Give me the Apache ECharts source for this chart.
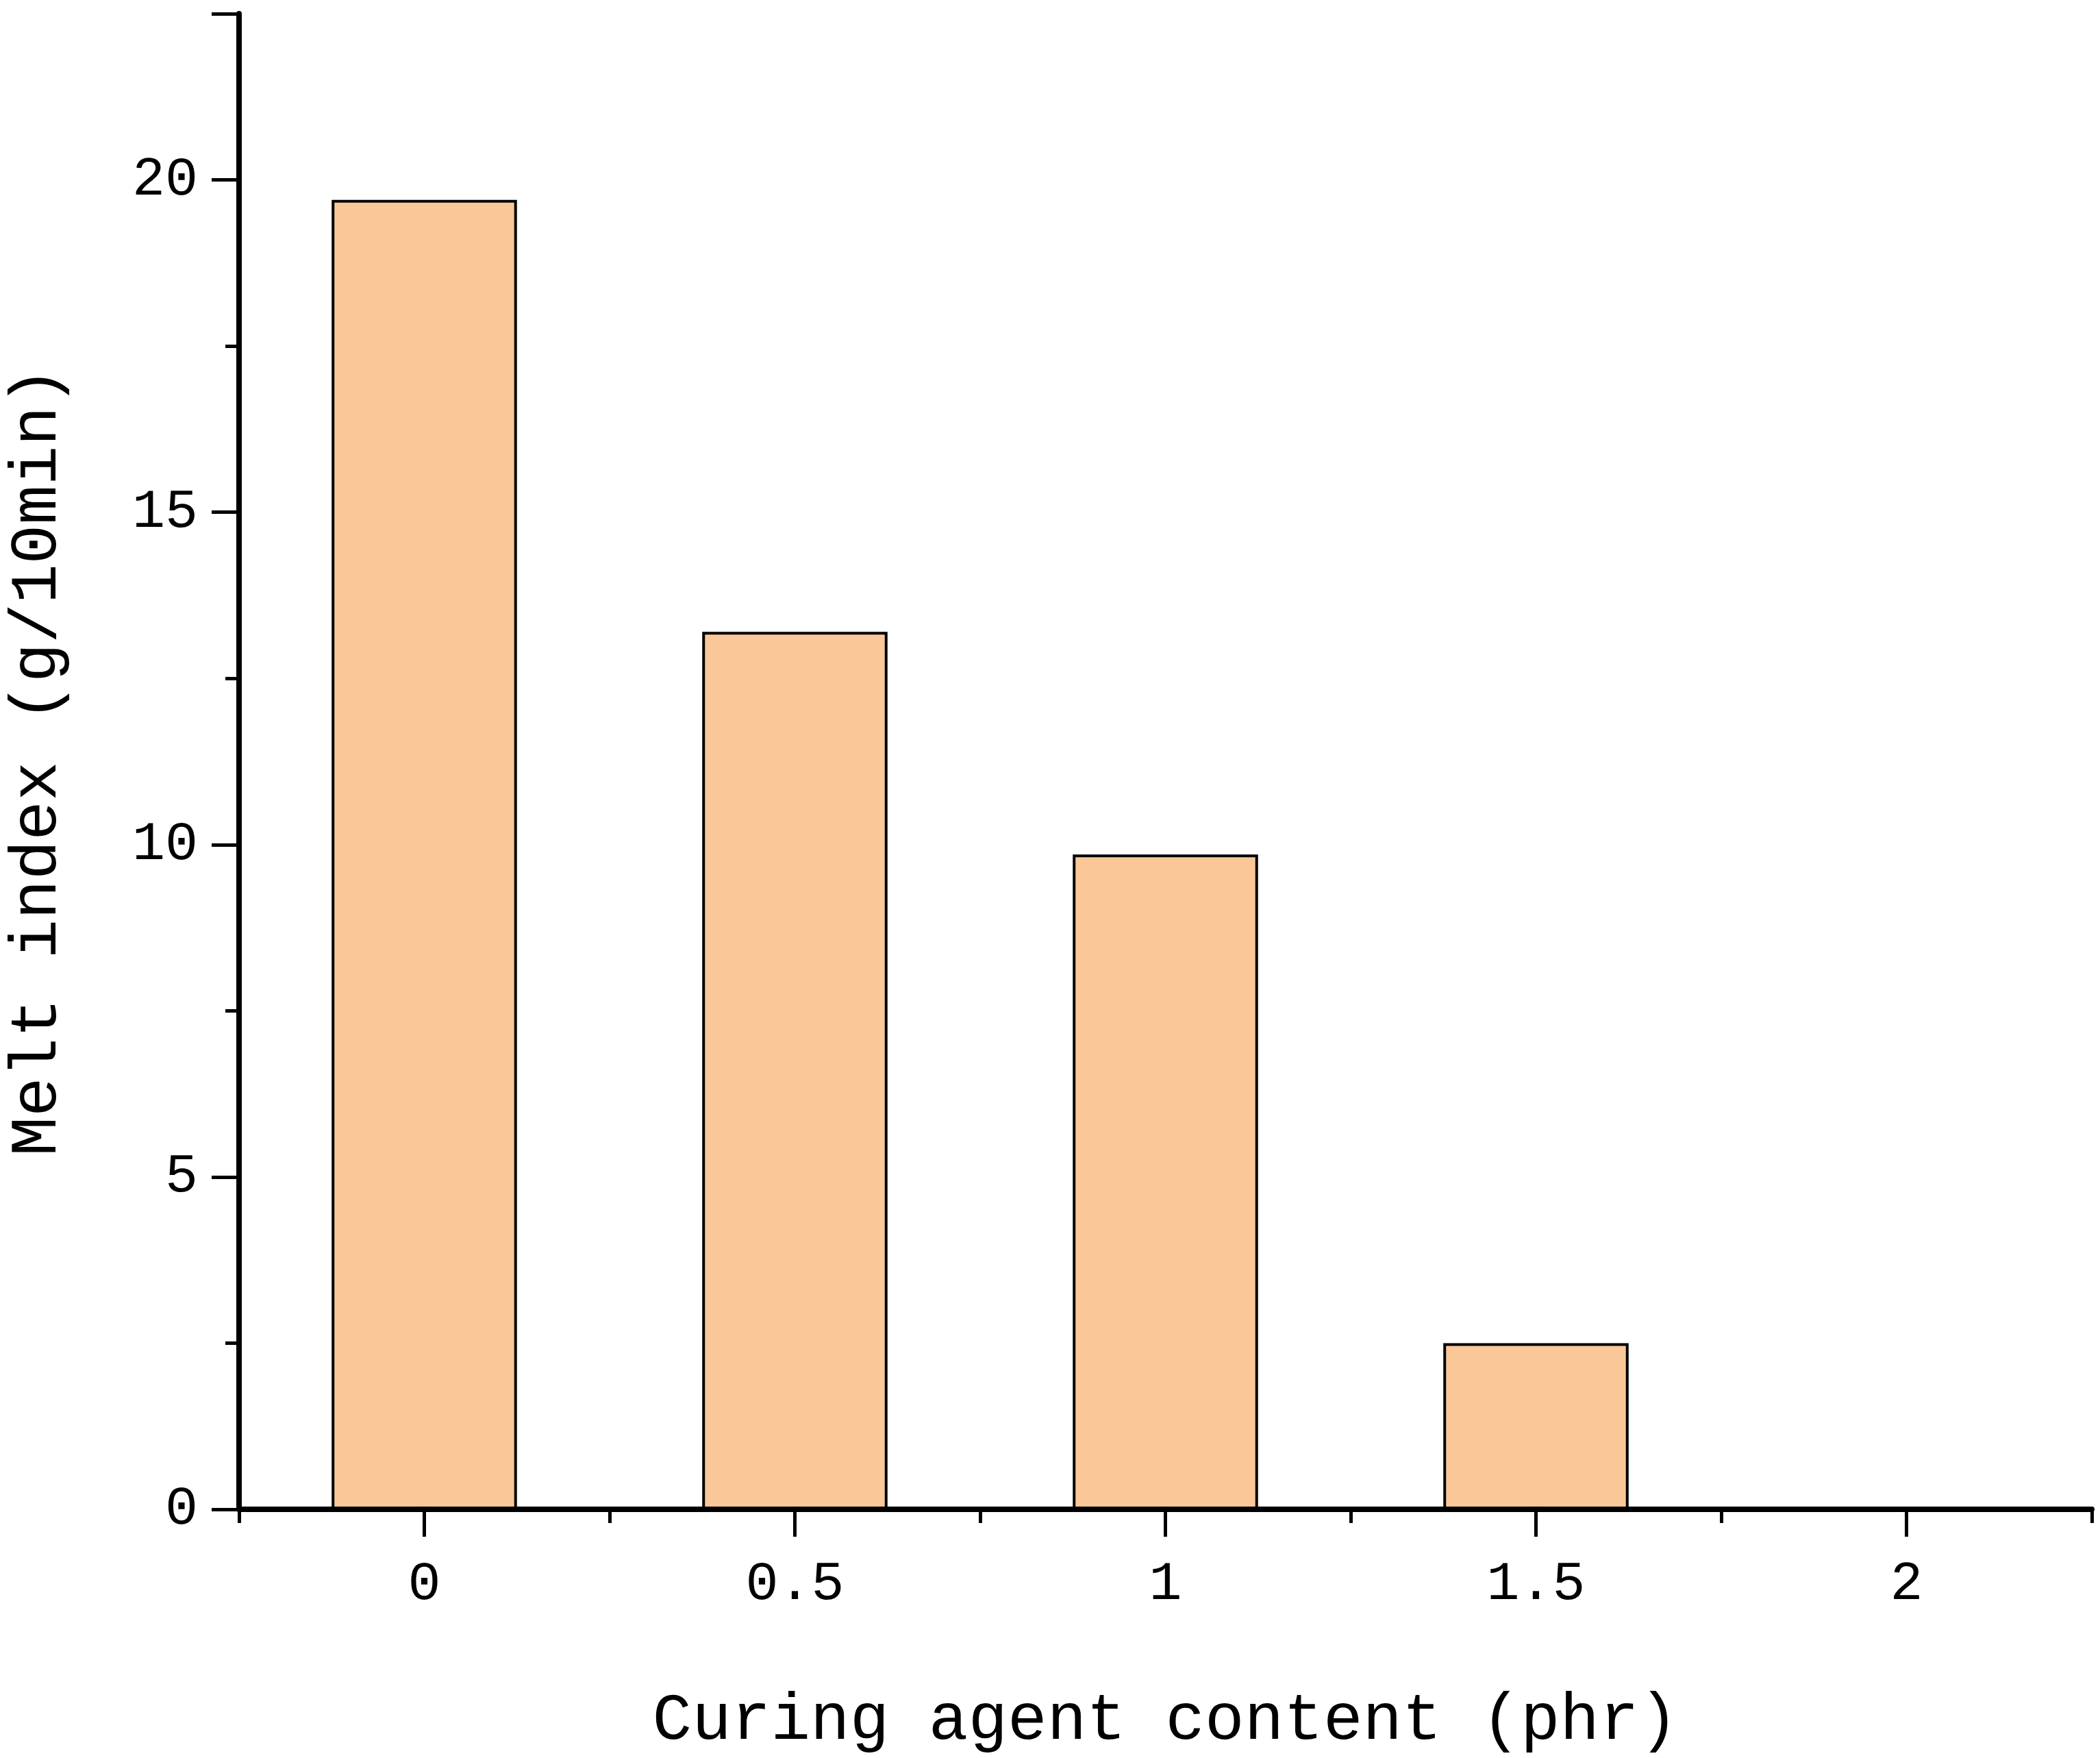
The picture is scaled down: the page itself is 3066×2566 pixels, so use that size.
<!DOCTYPE html><html><head><meta charset="utf-8"><script src="https://cdn.jsdelivr.net/npm/echarts@6/dist/echarts.min.js"></script>
<style>html,body{margin:0;padding:0;background:#fff}#c{width:3066px;height:2566px}</style></head><body><div id="c"></div><script>
const categories=['0','0.5','1','1.5','2'];
const meltIndex=[19.7,13.2,9.85,2.5,0];
const yTicks=[0,5,10,15,20];
const F='"Liberation Mono", "DejaVu Sans Mono", monospace';
const chart=echarts.init(document.getElementById('c'));
chart.setOption({
 animation:false,
 grid:{left:313,right:12,top:20,bottom:338,containLabel:false},
 xAxis:[{type:'category',data:categories,position:'bottom',
   axisLine:{lineStyle:{color:'#000',width:8}},
   axisTick:{show:true,length:20,lineStyle:{color:'#000',width:5}},
   axisLabel:{show:false},
   name:'Curing agent content (phr)',nameLocation:'middle',nameGap:262,
   nameTextStyle:{fontFamily:F,fontSize:96,color:'#000'}},
  {type:'category',data:categories,position:'bottom',
   axisLine:{show:false},
   axisTick:{show:true,alignWithLabel:true,length:40,lineStyle:{color:'#000',width:5}},
   axisLabel:{fontFamily:F,fontSize:80,color:'#000',margin:70}}],
 yAxis:{type:'value',min:0,max:22.5,interval:5,
   axisLine:{show:true,lineStyle:{color:'#000',width:8}},
   axisTick:{show:true,length:40,lineStyle:{color:'#000',width:5}},
   minorTick:{show:true,splitNumber:2,length:20,lineStyle:{color:'#000',width:5}},
   splitLine:{show:false},
   axisLabel:{fontFamily:F,fontSize:80,color:'#000',margin:60,
     formatter:v=>yTicks.includes(v)?String(v):''},
   name:'Melt index (g/10min)',nameLocation:'middle',nameGap:245,
   nameTextStyle:{fontFamily:F,fontSize:96,color:'#000'}},
 series:[{type:'bar',data:meltIndex,barWidth:'50%',
   itemStyle:{color:'#FAC898',borderColor:'#000',borderWidth:4}}]
});
</script></body></html>
